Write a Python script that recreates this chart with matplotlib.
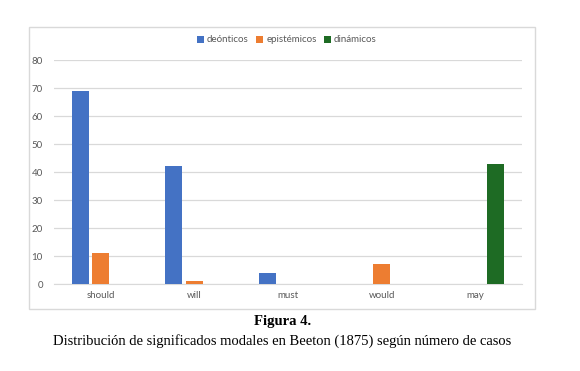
import matplotlib
matplotlib.use("Agg")
import matplotlib.pyplot as plt
from matplotlib.patches import Rectangle
import numpy as np

categories = ["should", "will", "must", "would", "may"]
deonticos = [69, 42, 4, 0, 0]
epistemicos = [11, 1, 0, 7, 0]
dinamicos = [0, 0, 0, 0, 43]
series_names = ["deónticos", "epistémicos", "dinámicos"]
colors = ["#4472C4", "#ED7D31", "#1E6B24"]
yticks = [0, 10, 20, 30, 40, 50, 60, 70, 80]

plt.rcParams['font.family'] = ['Lato', 'DejaVu Sans']
W, H = 580, 371
fig = plt.figure(figsize=(W/100, H/100), dpi=100)

# chart border box
fig.patches.append(Rectangle((29/W, 1-309/H), (535-29)/W, (309-27)/H,
                             transform=fig.transFigure, fill=False,
                             edgecolor="#D9D9D9", linewidth=1.0))

ax = fig.add_axes([54/W, 1-284/H, 468/W, 224/H])
x = np.arange(len(categories))
bw = 0.18
off = 0.22
for i, (vals, name, c) in enumerate(zip([deonticos, epistemicos, dinamicos], series_names, colors)):
    ax.bar(x + (i-1)*off, vals, width=bw, color=c, label=name, zorder=3)

ax.set_xlim(-0.5, len(categories)-0.5)
ax.set_ylim(0, 80)
ax.set_yticks(yticks)
ax.set_xticks(x)
ax.set_xticklabels(categories)
ax.grid(axis='y', color="#D9D9D9", linewidth=0.9, zorder=0)
for s in ["top", "right", "left"]:
    ax.spines[s].set_visible(False)
ax.spines["bottom"].set_color("#D9D9D9")
ax.tick_params(axis='both', length=0, labelsize=7, colors="#595959")
ax.tick_params(axis='y', pad=8)
ax.tick_params(axis='x', pad=5)

handles, labels = ax.get_legend_handles_labels()
fig.legend(handles, labels, loc="center", bbox_to_anchor=(287/W, 1-40/H), ncol=3,
           frameon=False, fontsize=7, labelcolor="#595959",
           handlelength=0.7, handleheight=0.7, handletextpad=0.3, columnspacing=0.8)

fig.text(283/W, 1-322/H, "Figura 4.", ha="center", va="center",
         fontfamily="Liberation Serif", fontweight="bold", fontsize=10.5)
fig.text(282/W, 1-341/H, "Distribución de significados modales en Beeton (1875) según número de casos",
         ha="center", va="center", fontfamily="Liberation Serif", fontsize=10.5)

fig.savefig("out.png", dpi=100)
